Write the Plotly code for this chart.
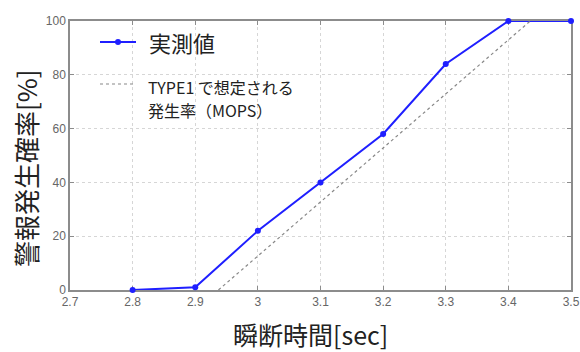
import plotly.graph_objects as go

x_meas = [2.8, 2.9, 3.0, 3.1, 3.2, 3.3, 3.4, 3.5]
y_meas = [0, 1, 22, 40, 58, 84, 100, 100]
x_mops = [2.937, 3.435]
y_mops = [0, 100]
x_ticks = [2.7, 2.8, 2.9, 3.0, 3.1, 3.2, 3.3, 3.4, 3.5]
x_tick_labels = ["2.7", "2.8", "2.9", "3", "3.1", "3.2", "3.3", "3.4", "3.5"]
y_ticks = [0, 20, 40, 60, 80, 100]
legend_meas = "実測値"
legend_mops_1 = "TYPE1 で想定される"
legend_mops_2 = "発生率（MOPS）"

BLUE = "#1f1fff"
GRAY = "#888888"

fig = go.Figure()
fig.add_trace(go.Scatter(
    x=x_meas, y=y_meas, mode="lines+markers", name=legend_meas,
    line=dict(color=BLUE, width=2),
    marker=dict(color=BLUE, size=6),
    cliponaxis=False,
))
fig.add_trace(go.Scatter(
    x=x_mops, y=y_mops, mode="lines", name=legend_mops_1 + legend_mops_2,
    line=dict(color=GRAY, width=1.2, dash="dot"),
))

axis_common = dict(
    showline=True, linecolor="#8c8c8c", linewidth=1.5, mirror="ticks",
    showgrid=True, gridcolor="#d6d6d6", griddash="dot", gridwidth=1,
    ticks="inside", ticklen=4, tickcolor="#8c8c8c",
    tickfont=dict(family="Liberation Sans, Arial", size=12, color="#666666"),
    zeroline=False, automargin=False, layer="below traces",
)

L, R, T, B = 70, 9, 21, 62
W, H = 580, 352
pw, ph = W - L - R, H - T - B

def px(xp):
    return (xp - L) / pw

def py(yp):
    return (H - B - yp) / ph

# manual legend
fig.add_shape(type="line", xref="paper", yref="paper", x0=px(100), x1=px(136), y0=py(42), y1=py(42),
              line=dict(color=BLUE, width=2))
fig.add_shape(type="circle", xref="paper", yref="paper", xsizemode="pixel", ysizemode="pixel",
              xanchor=px(118), yanchor=py(42), x0=-3, x1=3, y0=-3, y1=3,
              fillcolor=BLUE, line=dict(color=BLUE, width=0))
fig.add_shape(type="line", xref="paper", yref="paper", x0=px(100), x1=px(135), y0=py(84), y1=py(84),
              line=dict(color=GRAY, width=1.2, dash="dot"))
fig.add_annotation(text=legend_meas, xref="paper", yref="paper", x=px(147), y=py(42),
                   xanchor="left", yanchor="middle", showarrow=False,
                   font=dict(size=22, family="Noto Sans CJK JP", color="#222"))
fig.add_annotation(text=legend_mops_1, xref="paper", yref="paper", x=px(146), y=py(87),
                   xanchor="left", yanchor="middle", showarrow=False,
                   font=dict(size=16, family="Noto Sans CJK JP", color="#222"))
fig.add_annotation(text=legend_mops_2, xref="paper", yref="paper", x=px(146), y=py(110),
                   xanchor="left", yanchor="middle", showarrow=False,
                   font=dict(size=16, family="Noto Sans CJK JP", color="#222"))

# axis titles
fig.add_annotation(text="瞬断時間[sec]", xref="paper", yref="paper", x=px(310), y=py(334),
                   xanchor="center", yanchor="middle", showarrow=False,
                   font=dict(size=25, family="Noto Sans CJK JP", color="#222"))
fig.add_annotation(text="警報発生確率[%]", xref="paper", yref="paper", x=px(25), y=py(168),
                   xanchor="center", yanchor="middle", showarrow=False, textangle=-90,
                   font=dict(size=26, family="Noto Sans CJK JP", color="#222"))

fig.update_layout(
    width=W, height=H,
    margin=dict(l=L, r=R, t=T, b=B),
    paper_bgcolor="white", plot_bgcolor="white",
    font=dict(family="Noto Sans CJK JP", color="#222222"),
    xaxis=dict(range=[2.7, 3.5], tickvals=x_ticks, ticktext=x_tick_labels, **axis_common),
    yaxis=dict(range=[0, 100], tickvals=y_ticks, **axis_common),
    showlegend=False,
)

fig.write_html("out.html", config={"displayModeBar": False},
               post_script="document.body.style.margin='0';")
